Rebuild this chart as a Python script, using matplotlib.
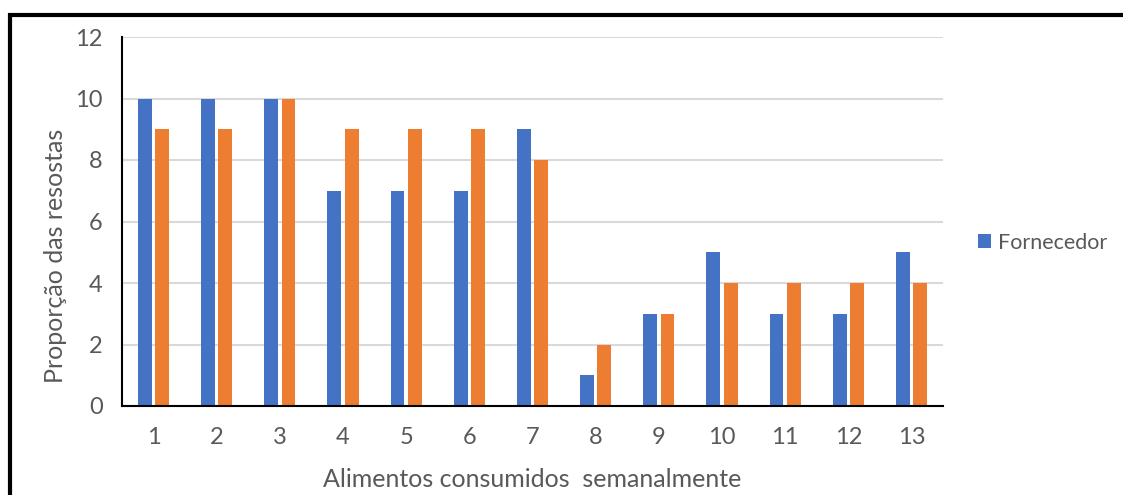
import numpy as np
import matplotlib.pyplot as plt
from matplotlib.patches import Rectangle

plt.rcParams['font.family'] = ['Lato', 'DejaVu Sans']

# Weekly food consumption responses
categorias = ['1', '2', '3', '4', '5', '6', '7', '8', '9', '10', '11', '12', '13']
fornecedor = [10, 10, 10, 7, 7, 7, 9, 1, 3, 5, 3, 3, 5]
segunda_serie = [9, 9, 10, 9, 9, 9, 8, 2, 3, 4, 4, 4, 4]

cinza = '#595959'
x = np.arange(len(categorias))
w = 0.22
off = 0.137

fig = plt.figure(figsize=(11.23, 4.95), dpi=100)
ax = fig.add_axes([122 / 1123, 1 - 406 / 495, 821 / 1123, 369 / 495])

ax.bar(x - off, fornecedor, w, color='#4472C4', label='Fornecedor', zorder=3)
ax.bar(x + off, segunda_serie, w, color='#ED7D31', label='_nolegend_', zorder=3)

ax.set_xlim(-0.5, len(categorias) - 0.5)
ax.set_ylim(0, 12)
ax.set_yticks(range(0, 13, 2))
ax.set_xticks(x)
ax.set_xticklabels(categorias)
ax.grid(axis='y', color='#d9d9d9', linewidth=1.5, zorder=0)
ax.tick_params(length=0, labelsize=17, colors=cinza)
ax.tick_params(axis='x', pad=15)
ax.tick_params(axis='y', pad=14)

for s in ['top', 'right']:
    ax.spines[s].set_visible(False)
for s in ['left', 'bottom']:
    ax.spines[s].set_linewidth(1.5)
    ax.spines[s].set_color('black')
    ax.spines[s].set_zorder(4)

ax.set_ylabel('Proporção das resostas', fontsize=18, color=cinza, va='center')
ax.yaxis.set_label_coords(-0.0816, 0.406)
ax.set_xlabel('Alimentos consumidos  semanalmente', fontsize=18, color=cinza, va='center')
ax.xaxis.set_label_coords(0.5, -0.2)

ax.legend(loc='center left', bbox_to_anchor=(1.0426, 0.442), frameon=False,
          borderpad=0, borderaxespad=0, fontsize=15.5, labelcolor=cinza,
          handlelength=0.6, handleheight=0.6, handletextpad=0.32)

# outer frame
fig.patches.append(Rectangle((10 / 1123, -0.1), 1.2, 1 - 15 / 495 + 0.1,
                             transform=fig.transFigure, fill=False,
                             edgecolor='black', linewidth=3, clip_on=False))

fig.savefig('out.png', dpi=100)
